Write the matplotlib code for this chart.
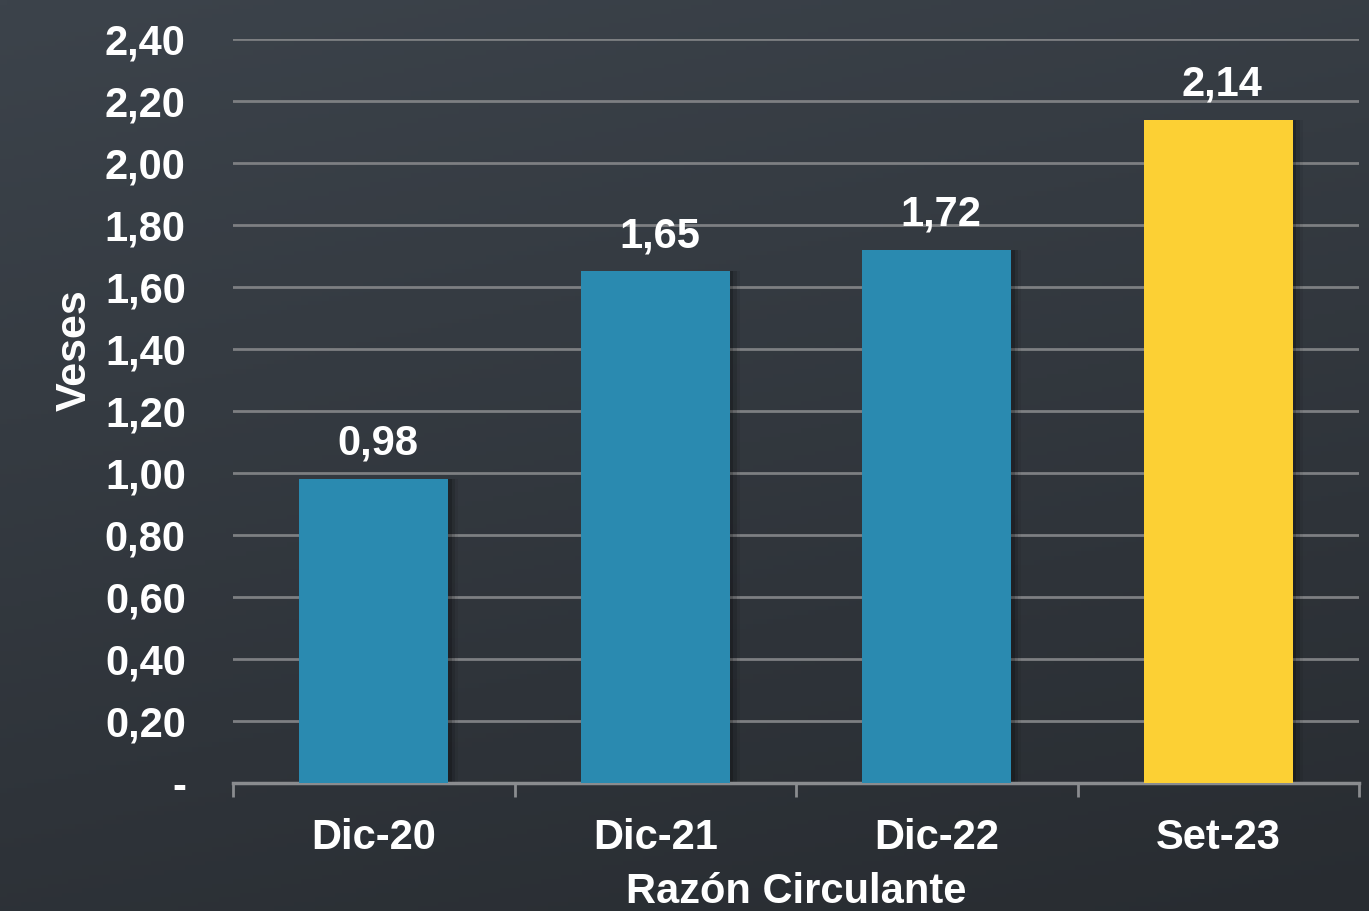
import matplotlib.pyplot as plt
import numpy as np

# Datos
categorias = ['Dic-20', 'Dic-21', 'Dic-22', 'Set-23']
valores = [0.98, 1.65, 1.72, 2.14]
colores = ['#2A8AB0', '#2A8AB0', '#2A8AB0', '#FCD034']
ticks_y = [0.0, 0.2, 0.4, 0.6, 0.8, 1.0, 1.2, 1.4, 1.6, 1.8, 2.0, 2.2, 2.4]

plt.rcParams['font.family'] = ['Liberation Sans', 'DejaVu Sans']

fig = plt.figure(figsize=(13.69, 9.11), dpi=100)

# Fondo degradado
bg = fig.add_axes([0, 0, 1, 1], zorder=0)
yy, xx = np.mgrid[0:1:200j, 0:1:200j]
t = np.clip(0.75 * yy + 0.25 * xx, 0, 1)
top = np.array([0x3c, 0x43, 0x4b]) / 255
bot = np.array([0x28, 0x2c, 0x31]) / 255
img = top[None, None, :] * (1 - t[..., None]) + bot[None, None, :] * t[..., None]
bg.imshow(img, aspect='auto', extent=[0, 1, 0, 1], origin='upper')
bg.axis('off')

ax = fig.add_axes([0.1702, 0.1405, 0.8225, 0.8167], zorder=1)
ax.patch.set_alpha(0)

x = np.arange(len(categorias))
ancho = 0.53

# Sombra suave
for d, a in [(0.012, 0.18), (0.024, 0.12), (0.036, 0.06)]:
    ax.bar(x + d, valores, ancho, color='black', alpha=a, zorder=2, linewidth=0)
ax.bar(x, valores, ancho, color=colores, zorder=3)

for xi, v in zip(x, valores):
    ax.annotate(f'{v:.2f}'.replace('.', ','), (xi, v), xytext=(3, 11),
                textcoords='offset points', ha='center', va='bottom',
                color='white', fontsize=30, fontweight='bold')

ax.set_xlim(-0.5, 3.5)
ax.set_ylim(0, 2.4)
ax.set_yticks(ticks_y)
ax.set_yticklabels(['-'] + [f'{v:.2f}'.replace('.', ',') for v in ticks_y[1:]])
ax.yaxis.grid(True, color='#7d7f82', linewidth=2, zorder=1)
ax.set_axisbelow(True)

ax.set_xticks(x)
ax.set_xticklabels(categorias)
ax.set_xticks([-0.5, 0.5, 1.5, 2.5, 3.5], minor=True)
ax.tick_params(axis='x', which='major', length=0, pad=25, labelsize=30, colors='white')
ax.tick_params(axis='x', which='minor', length=10, width=2, color='#8a8c8f', direction='out')
ax.tick_params(axis='y', length=0, pad=34, labelsize=30, colors='white')
for lab in ax.get_xticklabels() + ax.get_yticklabels():
    lab.set_fontweight('bold')

for s in ['top', 'right', 'left']:
    ax.spines[s].set_visible(False)
ax.spines['bottom'].set_color('#8a8c8f')
ax.spines['bottom'].set_linewidth(2.5)

ax.set_ylabel('Veses', color='white', fontsize=31, fontweight='bold')
ax.yaxis.set_label_coords(-0.123, 0.582)
ax.set_xlabel('Razón Circulante', color='white', fontsize=30, fontweight='bold', labelpad=10)

fig.savefig('out.png', dpi=100)
